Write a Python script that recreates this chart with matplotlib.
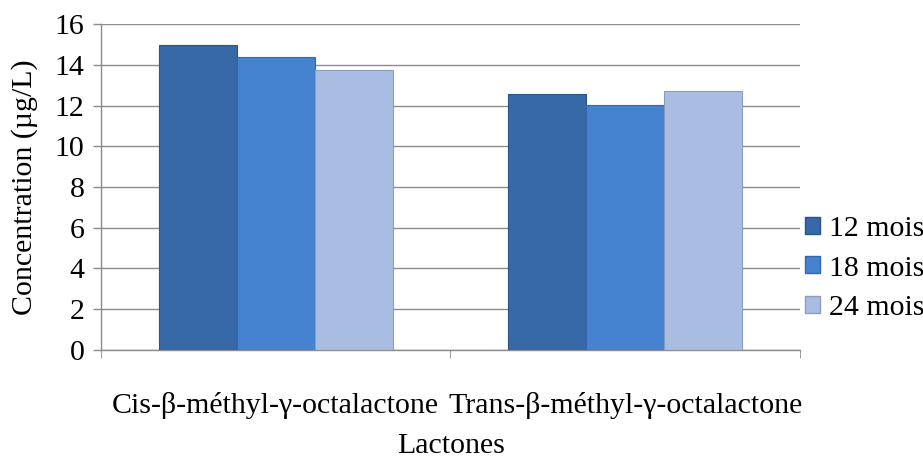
import matplotlib
matplotlib.use("Agg")
import matplotlib.pyplot as plt
import numpy as np
from matplotlib.patches import Patch

plt.rcParams['font.family'] = ['Liberation Serif', 'DejaVu Serif']

categories = ["Cis-β-méthyl-γ-octalactone", "Trans-β-méthyl-γ-octalactone"]
series = ["12 mois", "18 mois", "24 mois"]
values_12 = [14.95, 12.58]
values_18 = [14.38, 12.03]
values_24 = [13.72, 12.72]
colors = ["#3769A8", "#4582D0", "#A9BDE2"]
edges = ["#2A5288", "#3468AE", "#8A9CC0"]

FS = 21.5
fig = plt.figure(figsize=(9.23, 4.59), dpi=100)
ax = fig.add_axes([0.1094, 0.2375, 0.7573, 0.7102])

x = np.arange(len(categories))
w = 0.223
for i, (vals, c, ec) in enumerate(zip([values_12, values_18, values_24], colors, edges)):
    ax.bar(x + (i - 1) * w, vals, width=w, color=c, edgecolor=ec, linewidth=0.8, zorder=3)

ax.set_xlim(-0.5, 1.5)
ax.set_ylim(0, 16)
ax.set_yticks(range(0, 17, 2))
ax.yaxis.grid(True, color="#8C8C8C", linewidth=1.0, zorder=0)
ax.set_xticks(x)
ax.set_xticklabels(categories, fontsize=FS)
ax.tick_params(axis='x', length=0, pad=30)
ax.set_xticks([-0.5, 0.5, 1.5], minor=True)
ax.tick_params(axis='x', which='minor', length=6, color="#8C8C8C", direction='out')
ax.tick_params(axis='y', labelsize=FS, length=6, color="#8C8C8C", width=1.0, pad=6)
for s in ["top", "right"]:
    ax.spines[s].set_visible(False)
for s in ["left", "bottom"]:
    ax.spines[s].set_color("#8C8C8C")
    ax.spines[s].set_linewidth(1.0)

ax.set_ylabel("Concentration (µg/L)", fontsize=FS, labelpad=12)
fig.text(0.4885, 6 / 459, "Lactones", fontsize=FS, ha="center", va="baseline")

handles = [Patch(facecolor=c, edgecolor=ec, label=s) for c, ec, s in zip(colors, edges, series)]
fig.legend(handles=handles, loc="center left", bbox_to_anchor=(0.872, 0.415), frameon=False,
           fontsize=FS, handlelength=0.5, handleheight=0.5, handletextpad=0.3, labelspacing=0.45,
           borderaxespad=0, borderpad=0)

fig.savefig("out.png", dpi=100)
